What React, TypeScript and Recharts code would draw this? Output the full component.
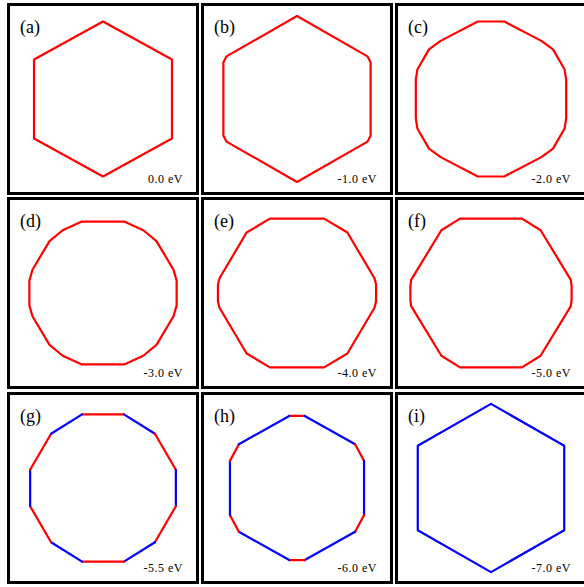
import React from "react";
import { ScatterChart, Scatter, XAxis, YAxis } from "recharts";

// Fermi contour vertices (kx, ky), in units of the 0 eV hexagon radius
const polyA = [
  { x: 0, y: 1.0 }, { x: 0.89, y: 0.51 }, { x: 0.89, y: -0.51 }, { x: 0, y: -1.0 },
  { x: -0.89, y: -0.51 }, { x: -0.89, y: 0.51 },
];
const polyB = [
  { x: 0, y: 1.07 }, { x: 0.91, y: 0.55 }, { x: 0.95, y: 0.47 }, { x: 0.95, y: -0.47 },
  { x: 0.91, y: -0.55 }, { x: 0, y: -1.07 }, { x: -0.91, y: -0.55 }, { x: -0.95, y: -0.47 },
  { x: -0.95, y: 0.47 }, { x: -0.91, y: 0.55 },
];
const polyC = [
  { x: 0.17, y: 1.0 }, { x: 0.65, y: 0.75 }, { x: 0.8, y: 0.64 }, { x: 0.95, y: 0.38 }, { x: 0.97, y: 0.25 },
  { x: 0.97, y: -0.25 }, { x: 0.95, y: -0.38 }, { x: 0.8, y: -0.64 }, { x: 0.65, y: -0.75 }, { x: 0.17, y: -1.0 },
  { x: -0.17, y: -1.0 }, { x: -0.65, y: -0.75 }, { x: -0.8, y: -0.64 }, { x: -0.95, y: -0.38 }, { x: -0.97, y: -0.25 },
  { x: -0.97, y: 0.25 }, { x: -0.95, y: 0.38 }, { x: -0.8, y: 0.64 }, { x: -0.65, y: 0.75 }, { x: -0.17, y: 1.0 },
];
const polyD = [
  { x: 0.28, y: 0.92 }, { x: 0.52, y: 0.81 }, { x: 0.69, y: 0.67 }, { x: 0.91, y: 0.3 }, { x: 0.95, y: 0.16 },
  { x: 0.95, y: -0.16 }, { x: 0.91, y: -0.3 }, { x: 0.69, y: -0.67 }, { x: 0.52, y: -0.81 }, { x: 0.28, y: -0.92 },
  { x: -0.28, y: -0.92 }, { x: -0.52, y: -0.81 }, { x: -0.69, y: -0.67 }, { x: -0.91, y: -0.3 }, { x: -0.95, y: -0.16 },
  { x: -0.95, y: 0.16 }, { x: -0.91, y: 0.3 }, { x: -0.69, y: 0.67 }, { x: -0.52, y: 0.81 }, { x: -0.28, y: 0.92 },
];
const polyE = [
  { x: 0.35, y: 0.96 }, { x: 0.65, y: 0.78 }, { x: 1.0, y: 0.19 }, { x: 1.02, y: 0.11 },
  { x: 1.02, y: -0.11 }, { x: 1.0, y: -0.19 }, { x: 0.65, y: -0.78 }, { x: 0.35, y: -0.96 },
  { x: -0.35, y: -0.96 }, { x: -0.65, y: -0.78 }, { x: -1.0, y: -0.19 }, { x: -1.02, y: -0.11 },
  { x: -1.02, y: 0.11 }, { x: -1.0, y: 0.19 }, { x: -0.65, y: 0.78 }, { x: -0.35, y: 0.96 },
];
const polyF = [
  { x: 0.4, y: 0.96 }, { x: 0.64, y: 0.81 }, { x: 1.03, y: 0.17 }, { x: 1.04, y: 0.09 },
  { x: 1.04, y: -0.09 }, { x: 1.03, y: -0.17 }, { x: 0.64, y: -0.81 }, { x: 0.4, y: -0.96 },
  { x: -0.4, y: -0.96 }, { x: -0.64, y: -0.81 }, { x: -1.03, y: -0.17 }, { x: -1.04, y: -0.09 },
  { x: -1.04, y: 0.09 }, { x: -1.03, y: 0.17 }, { x: -0.64, y: 0.81 }, { x: -0.4, y: 0.96 },
];
const polyG = [
  { x: -0.27, y: 0.95 }, { x: 0.27, y: 0.95 }, { x: 0.67, y: 0.7 }, { x: 0.94, y: 0.235 },
  { x: 0.94, y: -0.235 }, { x: 0.67, y: -0.7 }, { x: 0.27, y: -0.95 }, { x: -0.27, y: -0.95 },
  { x: -0.67, y: -0.7 }, { x: -0.94, y: -0.235 }, { x: -0.94, y: 0.235 }, { x: -0.67, y: 0.7 },
];
const polyH = [
  { x: -0.1, y: 0.93 }, { x: 0.1, y: 0.93 }, { x: 0.75, y: 0.565 }, { x: 0.865, y: 0.35 },
  { x: 0.865, y: -0.35 }, { x: 0.75, y: -0.565 }, { x: 0.1, y: -0.93 }, { x: -0.1, y: -0.93 },
  { x: -0.75, y: -0.565 }, { x: -0.865, y: -0.35 }, { x: -0.865, y: 0.35 }, { x: -0.75, y: 0.565 },
];
const polyI = [
  { x: 0, y: 1.085 }, { x: 0.945, y: 0.545 }, { x: 0.945, y: -0.545 }, { x: 0, y: -1.085 },
  { x: -0.945, y: -0.545 }, { x: -0.945, y: 0.545 },
];

// band character of each edge (R = red band, B = blue band)
const edgesSingleRed = "R";
const edgesSingleBlue = "B";
const edgesG = ["R", "B", "R", "B", "R", "B", "R", "B", "R", "B", "R", "B"];
const edgesH = ["R", "B", "R", "B", "R", "B", "R", "B", "R", "B", "R", "B"];

const panelLetters = ["(a)", "(b)", "(c)", "(d)", "(e)", "(f)", "(g)", "(h)", "(i)"];
const energyLabels = ["0.0 eV", "-1.0 eV", "-2.0 eV", "-3.0 eV", "-4.0 eV", "-5.0 eV", "-5.5 eV", "-6.0 eV", "-7.0 eV"];

const COLORS: Record<string, string> = { R: "#ff0000", B: "#0000ff" };
const PANEL = 192;
const BORDER = 3;
const INNER = PANEL - 2 * BORDER;
const COL_LEFT = [7, 201, 395];
const ROW_TOP = [3, 197, 392];
const SERIF = "'Liberation Serif', 'Times New Roman', Times, serif";

type Pt = { x: number; y: number };

function buildSeries(poly: Pt[], edges: string | string[]) {
  if (typeof edges === "string") {
    return [{ color: COLORS[edges], data: [...poly, poly[0]] }];
  }
  return poly.map((p, i) => ({
    color: COLORS[edges[i]],
    data: [p, poly[(i + 1) % poly.length]],
  }));
}

const panels = [
  { poly: polyA, edges: edgesSingleRed },
  { poly: polyB, edges: edgesSingleRed },
  { poly: polyC, edges: edgesSingleRed },
  { poly: polyD, edges: edgesSingleRed },
  { poly: polyE, edges: edgesSingleRed },
  { poly: polyF, edges: edgesSingleRed },
  { poly: polyG, edges: edgesG },
  { poly: polyH, edges: edgesH },
  { poly: polyI, edges: edgesSingleBlue },
];

const NoShape = () => <g />;

function Panel({ idx }: { idx: number }) {
  const { poly, edges } = panels[idx];
  const series = buildSeries(poly, edges);
  const left = COL_LEFT[idx % 3];
  const top = ROW_TOP[Math.floor(idx / 3)];
  return (
    <div
      style={{
        position: "absolute",
        left,
        top,
        width: PANEL,
        height: PANEL,
        boxSizing: "border-box",
        border: `${BORDER}px solid #000`,
        background: "#fff",
      }}
    >
      <ScatterChart width={INNER} height={INNER} margin={{ top: 0, right: 0, bottom: 0, left: 0 }}>
        <XAxis type="number" dataKey="x" domain={[-1.2, 1.2]} hide allowDataOverflow />
        <YAxis type="number" dataKey="y" domain={[-1.2, 1.2]} hide allowDataOverflow />
        {series.map((s, i) => (
          <Scatter
            key={i}
            data={s.data}
            fill={s.color}
            line={{ stroke: s.color, strokeWidth: 2.2, strokeLinejoin: "round", strokeLinecap: "round", fill: "none" }}
            lineType="joint"
            shape={NoShape}
            isAnimationActive={false}
            legendType="none"
          />
        ))}
      </ScatterChart>
      <svg
        width={INNER}
        height={INNER}
        style={{ position: "absolute", left: 0, top: 0, pointerEvents: "none" }}
      >
        <text x={13 - BORDER} y={29.7 - BORDER} fontFamily={SERIF} fontSize={18} fill="#000">
          {panelLetters[idx]}
        </text>
        <text
          x={176 - BORDER}
          y={180 - BORDER}
          textAnchor="end"
          fontFamily={SERIF}
          fontSize={12}
          letterSpacing={0.5}
          fill="#000"
        >
          {energyLabels[idx]}
        </text>
      </svg>
    </div>
  );
}

export default function App() {
  return (
    <div style={{ position: "absolute", left: 0, top: 0, width: 584, height: 587, background: "#fff", overflow: "hidden" }}>
      {panelLetters.map((_, i) => (
        <Panel key={i} idx={i} />
      ))}
    </div>
  );
}
